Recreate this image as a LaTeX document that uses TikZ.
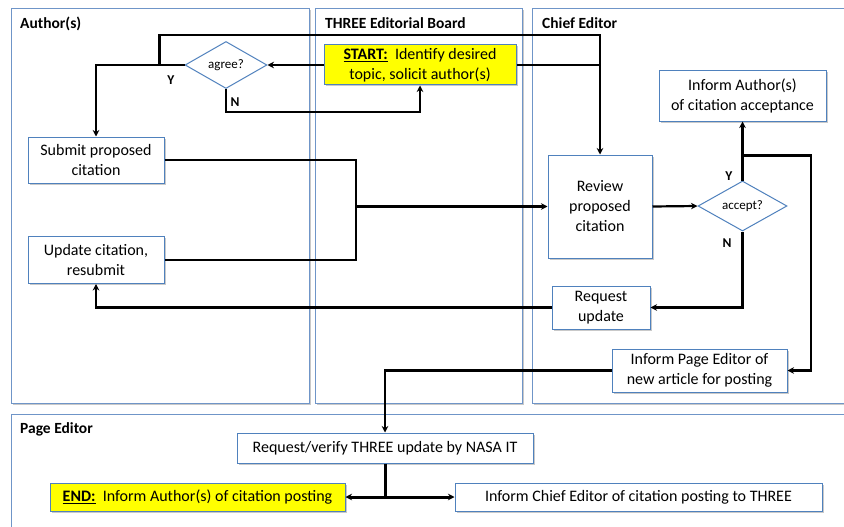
\documentclass[tikz,border=0pt]{standalone}
\usepackage{fontspec}
\setmainfont{Carlito}
\usetikzlibrary{arrows.meta,shapes.geometric,shadows,calc}
\definecolor{boxblue}{HTML}{4F81BD}
\definecolor{laneblue}{HTML}{6F95C8}
\definecolor{startyellow}{HTML}{FFFF00}
\begin{document}
\begin{tikzpicture}[x=1pt,y=-1pt,
  shad/.style={drop shadow={shadow xshift=1.5pt, shadow yshift=-1.5pt, opacity=0.35, fill=black!60}},
  lane/.style={draw=laneblue, line width=1pt, fill=white, shad},
  lanelabel/.style={anchor=west, font=\fontsize{15.5}{18}\selectfont\bfseries, inner sep=0pt},
  box/.style={draw=boxblue, line width=1pt, fill=white, align=center,
    font=\fontsize{16}{20}\selectfont, inner sep=0pt, shad},
  startbox/.style={box, fill=startyellow},
  dia/.style={diamond, draw=boxblue, fill=white, line width=1pt, inner sep=0pt,
    aspect=1.75, font=\fontsize{13}{15}\selectfont},
  line/.style={line width=2.2pt, black},
  thickline/.style={line width=3pt, black},
  tip/.style={-{Stealth[length=6.5pt,width=6.5pt]}},
  arr/.style={line, tip},
  yn/.style={font=\fontsize{13.5}{15}\selectfont\bfseries, inner sep=0pt}]
\useasboundingbox (0,0) rectangle (844,527);
\clip (0,0) rectangle (844,527);
\fill[white] (0,0) rectangle (844,527);

% lanes
\draw[lane] (11,9) rectangle (309,403);
\draw[lane] (315,9) rectangle (522,403);
\draw[lane] (532,9) rectangle (852,403);
\draw[lane] (11,414) rectangle (852,540);
\node[lanelabel] (lA) at (20,24) {Author(s)};
\node[lanelabel] (lE) at (325,23) {THREE Editorial Board};
\node[lanelabel] (lC) at (542,23) {Chief Editor};
\node[lanelabel] (lP) at (20,429) {Page Editor};

% nodes
\node[startbox, minimum width=192pt, minimum height=40pt] (start) at (420,65)
  {\underline{\textbf{START:}}\ \ Identify desired\\topic, solicit author(s)};
\node[dia, minimum width=82pt, minimum height=47pt] (agree) at (226,65) {agree?};
\node[box, minimum width=136pt, minimum height=46pt] (submit) at (96,160)
  {Submit proposed\\citation};
\node[box, minimum width=136pt, minimum height=47pt] (update) at (96,260)
  {Update citation,\\resubmit};
\node[box, minimum width=104pt, minimum height=103pt] (review) at (600,206.5)
  {Review\\proposed\\citation};
\node[dia, minimum width=89pt, minimum height=50pt] (accept) at (742.5,206) {accept?};
\node[box, minimum width=167pt, minimum height=50pt] (informA) at (742.5,96)
  {Inform Author(s)\\of citation acceptance};
\node[box, minimum width=98pt, minimum height=43pt] (requpd) at (601,307.5)
  {Request\\update};
\node[box, minimum width=175pt, minimum height=43pt] (informPE) at (699.5,370.5)
  {Inform Page Editor of\\new article for posting};
\node[box, minimum width=296pt, minimum height=30pt] (reqver) at (385,448)
  {Request/verify THREE update by NASA IT};
\node[startbox, minimum width=295pt, minimum height=28pt] (endb) at (197.5,497)
  {\underline{\textbf{END:}}\ \ Inform Author(s) of citation posting};
\node[box, minimum width=367pt, minimum height=28pt] (informCE) at (638.5,497)
  {Inform Chief Editor of citation posting to THREE};

% labels
\node[yn] (y1) at (171,80) {Y};
\node[yn] (n1) at (235,102) {N};
\node[yn] (y2) at (729,176) {Y};
\node[yn] (n2) at (727,243) {N};

% connectors
\draw[arr] (start.west) -- (agree.east);
\draw[arr] (agree.west) -| (submit.north);
\coordinate (yb) at ($(agree.west)+(-25,0)$);
\draw[arr] (yb) -- ++(0,-30) -| (review.north);
\draw[line] (start.east) -- (start.east -| review.north);
\draw[arr] (agree.south) -- ++(0,23) -| (start.south);

\coordinate (j) at (356,206.5);
\draw[line] (submit.east) -| (j) |- (update.east);
\draw[thickline, tip] (j) -- (review.west);

\draw[arr] (review.east) -- (accept.west);
\draw[arr] (accept.north) -- (informA.south);
\draw[arr] ($(accept.north)+(0,-25)$) -- ++(68.5,0) |- (informPE.east);
\draw[arr] (accept.south) |- (requpd.east);
\draw[arr] (requpd.west) -| (update.south);
\draw[arr] (informPE.west) -| (reqver.north);

\coordinate (b) at (reqver.south |- endb.east);
\draw[thickline] (reqver.south) -- (b);
\draw[thickline, tip] (b) -- (endb.east);
\draw[thickline, tip] (b) -- (informCE.west);
\end{tikzpicture}
\end{document}
